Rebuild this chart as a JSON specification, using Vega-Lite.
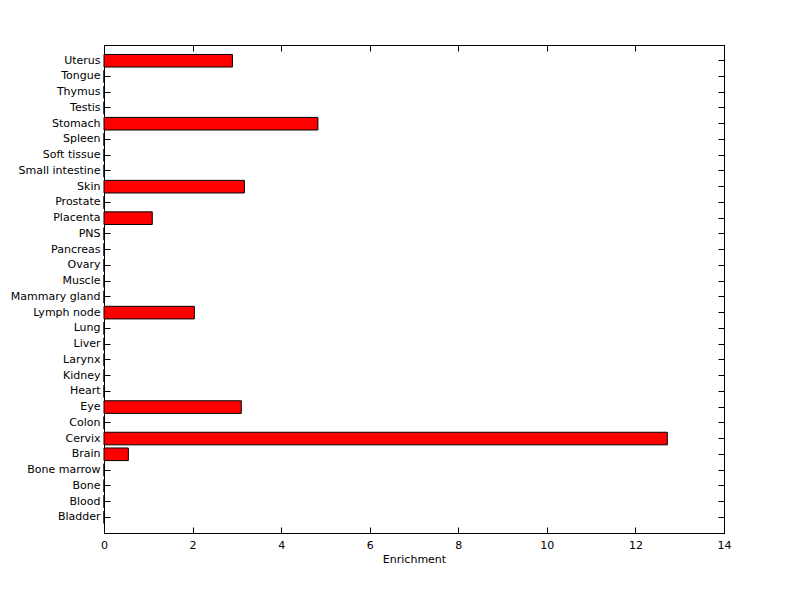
{
  "$schema": "https://vega.github.io/schema/vega-lite/v6.json",
  "autosize": "none",
  "width": 620,
  "height": 488,
  "padding": {"left": 104, "top": 45, "right": 76, "bottom": 66},
  "background": "white",
  "config": {
    "view": {"stroke": "black", "strokeWidth": 1},
    "font": "DejaVu Sans",
    "axis": {
      "domainColor": "black",
      "tickColor": "black",
      "labelColor": "black",
      "titleColor": "black",
      "labelFont": "DejaVu Sans",
      "titleFont": "DejaVu Sans",
      "labelFontSize": 11,
      "titleFontSize": 11,
      "titleFontWeight": "normal",
      "grid": false,
      "tickSize": -6,
      "labelFlush": false
    }
  },
  "data": {
    "values": [
      {"tissue": "Bladder", "enrichment": 0},
      {"tissue": "Blood", "enrichment": 0},
      {"tissue": "Bone", "enrichment": 0},
      {"tissue": "Bone marrow", "enrichment": 0},
      {"tissue": "Brain", "enrichment": 0.55},
      {"tissue": "Cervix", "enrichment": 12.72},
      {"tissue": "Colon", "enrichment": 0},
      {"tissue": "Eye", "enrichment": 3.1},
      {"tissue": "Heart", "enrichment": 0},
      {"tissue": "Kidney", "enrichment": 0},
      {"tissue": "Larynx", "enrichment": 0},
      {"tissue": "Liver", "enrichment": 0},
      {"tissue": "Lung", "enrichment": 0},
      {"tissue": "Lymph node", "enrichment": 2.04},
      {"tissue": "Mammary gland", "enrichment": 0},
      {"tissue": "Muscle", "enrichment": 0},
      {"tissue": "Ovary", "enrichment": 0},
      {"tissue": "Pancreas", "enrichment": 0},
      {"tissue": "PNS", "enrichment": 0},
      {"tissue": "Placenta", "enrichment": 1.09},
      {"tissue": "Prostate", "enrichment": 0},
      {"tissue": "Skin", "enrichment": 3.17},
      {"tissue": "Small intestine", "enrichment": 0},
      {"tissue": "Soft tissue", "enrichment": 0},
      {"tissue": "Spleen", "enrichment": 0},
      {"tissue": "Stomach", "enrichment": 4.83},
      {"tissue": "Testis", "enrichment": 0},
      {"tissue": "Thymus", "enrichment": 0},
      {"tissue": "Tongue", "enrichment": 0},
      {"tissue": "Uterus", "enrichment": 2.9}
    ]
  },
  "layer": [
    {
      "mark": {"type": "bar", "fill": "#ff0000", "stroke": "black", "strokeWidth": 1},
      "encoding": {
        "y": {
          "field": "tissue",
          "type": "nominal",
          "sort": null,
          "scale": {"reverse": true, "paddingInner": 0.2, "paddingOuter": 0.6},
          "axis": {"title": null, "labelPadding": 10, "domain": true}
        },
        "x": {
          "field": "enrichment",
          "type": "quantitative",
          "scale": {"domain": [0, 14], "nice": false},
          "axis": {"title": "Enrichment", "values": [0, 2, 4, 6, 8, 10, 12, 14], "labelPadding": 12, "titlePadding": 3}
        }
      }
    },
    {
      "mark": {"type": "bar", "opacity": 0},
      "encoding": {
        "y": {
          "field": "tissue",
          "type": "nominal",
          "sort": null,
          "scale": {"reverse": true, "paddingInner": 0.2, "paddingOuter": 0.6},
          "axis": {"orient": "right", "title": null, "labels": false}
        },
        "x": {
          "field": "enrichment",
          "type": "quantitative",
          "scale": {"domain": [0, 14], "nice": false},
          "axis": {"orient": "top", "title": null, "labels": false, "values": [0, 2, 4, 6, 8, 10, 12, 14]}
        }
      }
    }
  ],
  "resolve": {"axis": {"x": "independent", "y": "independent"}}
}
